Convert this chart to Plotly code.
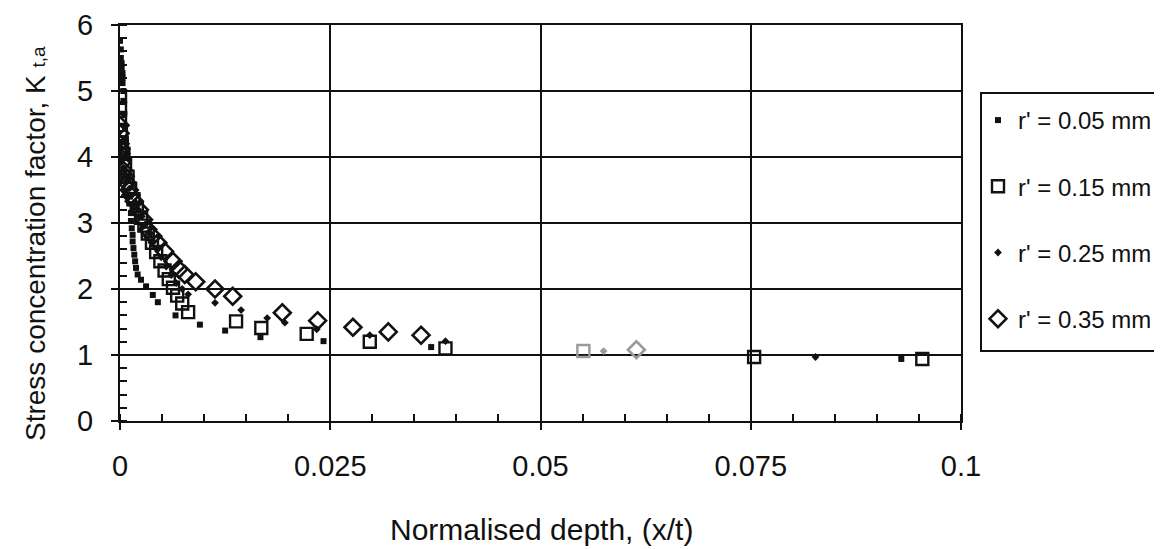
import plotly.graph_objects as go

# ---------------- data ----------------
x_005 = [0.0000, 0.0001, 0.0001, 0.0002, 0.0002, 0.0003, 0.0003, 0.0003, 0.0004, 0.0004,
         0.0005, 0.0006, 0.0007, 0.0008, 0.0010, 0.0012, 0.0013, 0.0013, 0.0014, 0.0015,
         0.0015, 0.0016, 0.0017, 0.0018, 0.0019, 0.0021, 0.0025, 0.0031, 0.0039, 0.0045,
         0.0066, 0.0095, 0.0125, 0.0167, 0.0242, 0.0370, 0.0929]
y_005 = [5.76, 5.63, 5.50, 5.42, 5.35, 5.27, 5.20, 5.12, 5.00, 4.85,
         4.65, 4.45, 4.25, 4.05, 3.70, 3.40, 3.15, 3.03, 2.92, 2.82,
         2.72, 2.62, 2.52, 2.42, 2.32, 2.22, 2.14, 2.04, 1.91, 1.80,
         1.60, 1.46, 1.37, 1.27, 1.21, 1.12, 0.94]

x_015 = [0.0000, 0.0000, 0.0000, 0.0001, 0.0002, 0.0004, 0.0006, 0.0009, 0.0012, 0.0016,
         0.0020, 0.0025, 0.0029, 0.0033, 0.0038, 0.0043, 0.0048, 0.0053, 0.0058, 0.0063,
         0.0068, 0.0074, 0.0081, 0.0138, 0.0168, 0.0222, 0.0297, 0.0387, 0.0551, 0.0754,
         0.0954]
y_015 = [4.92, 4.74, 4.59, 4.40, 4.22, 4.05, 3.88, 3.70, 3.52, 3.36,
         3.22, 3.08, 2.96, 2.84, 2.70, 2.56, 2.42, 2.28, 2.15, 2.02,
         1.90, 1.78, 1.65, 1.51, 1.41, 1.32, 1.20, 1.10, 1.06, 0.97,
         0.94]

x_025 = [0.0000, 0.0001, 0.0002, 0.0004, 0.0006, 0.0008, 0.0011, 0.0014, 0.0018, 0.0022,
         0.0026, 0.0030, 0.0034, 0.0039, 0.0044, 0.0049, 0.0055, 0.0061, 0.0067, 0.0074,
         0.0081, 0.0113, 0.0144, 0.0175, 0.0196, 0.0234, 0.0297, 0.0387, 0.0575, 0.0827]
y_025 = [4.22, 4.08, 3.95, 3.84, 3.74, 3.64, 3.52, 3.42, 3.32, 3.20,
         3.10, 2.98, 2.86, 2.73, 2.60, 2.48, 2.34, 2.21, 2.09, 2.00,
         1.92, 1.79, 1.68, 1.56, 1.49, 1.39, 1.30, 1.21, 1.06, 0.97]

x_035 = [0.0000, 0.0000, 0.0000, 0.0001, 0.0001, 0.0002, 0.0004, 0.0006, 0.0008, 0.0011,
         0.0013, 0.0017, 0.0023, 0.0028, 0.0033, 0.0039, 0.0045, 0.0053, 0.0063, 0.0070,
         0.0077, 0.0090, 0.0113, 0.0134, 0.0193, 0.0235, 0.0277, 0.0319, 0.0358, 0.0614]
y_035 = [4.48, 4.36, 4.20, 4.12, 4.05, 3.91, 3.80, 3.71, 3.61, 3.50,
         3.42, 3.33, 3.20, 3.05, 2.90, 2.80, 2.70, 2.57, 2.42, 2.30,
         2.22, 2.11, 2.00, 1.89, 1.64, 1.52, 1.42, 1.35, 1.30, 1.08]

series_names = ["r' = 0.05 mm", "r' = 0.15 mm", "r' = 0.25 mm", "r' = 0.35 mm"]

x_tickvals = [0, 0.025, 0.05, 0.075, 0.1]
x_ticktext = ["0", "0.025", "0.05", "0.075", "0.1"]
y_tickvals = [0, 1, 2, 3, 4, 5, 6]

# ---------------- styling ----------------
FONT = "Liberation Sans"
BLACK = "#111111"
FADED = "#9a9a9a"


def colours(xs):
    # points in the middle of the chart are faded in the original scan
    return [FADED if 0.05 < v < 0.065 else BLACK for v in xs]


fig = go.Figure()

fig.add_trace(go.Scatter(
    x=x_005, y=y_005, mode="markers", name=series_names[0],
    legendgroup="a",
    marker=dict(symbol="square", size=6, color=colours(x_005), line=dict(width=0)),
))
fig.add_trace(go.Scatter(
    x=x_015, y=y_015, mode="markers", name=series_names[1],
    legendgroup="b",
    marker=dict(symbol="square-open", size=12, color=colours(x_015),
                line=dict(width=2.4, color=colours(x_015))),
))
fig.add_trace(go.Scatter(
    x=x_025, y=y_025, mode="markers", name=series_names[2],
    legendgroup="c",
    marker=dict(symbol="diamond", size=6, color=colours(x_025), line=dict(width=0)),
))
fig.add_trace(go.Scatter(
    x=x_035, y=y_035, mode="markers", name=series_names[3],
    legendgroup="d",
    marker=dict(symbol="diamond-open", size=13, color=colours(x_035),
                line=dict(width=2.6, color=colours(x_035))),
))

L, R, T, B = 112, 209, 17, 136
W, H = 1162, 549
pw, ph = W - L - R, H - T - B


def px_x(p):
    return (p - L) / pw


def px_y(p):
    return (H - B - p) / ph


axis_common = dict(
    showline=True, linecolor=BLACK, linewidth=2.2, mirror=True,
    showgrid=True, gridcolor=BLACK, gridwidth=2,
    zeroline=False,
    ticks="outside", tickcolor=BLACK, tickwidth=2, ticklen=7,
    tickfont=dict(family=FONT, size=29, color=BLACK),
)

fig.update_xaxes(
    range=[0, 0.1], tickvals=x_tickvals, ticktext=x_ticktext,
    ticklabelstandoff=11,
    minor=dict(ticks="inside", dtick=0.005, ticklen=7, tickwidth=2, tickcolor=BLACK,
               showgrid=False),
    **axis_common,
)
fig.update_yaxes(
    range=[0, 6], tickvals=y_tickvals,
    ticklabelstandoff=12,
    minor=dict(ticks="inside", dtick=0.2, ticklen=7, tickwidth=2, tickcolor=BLACK,
               showgrid=False),
    **axis_common,
)

# axis titles
fig.add_annotation(
    text="Normalised depth, (x/t)", xref="paper", yref="paper",
    x=px_x(533), y=px_y(521), showarrow=False,
    font=dict(family=FONT, size=30, color=BLACK), xanchor="center", yanchor="middle",
)
fig.add_annotation(
    text="Stress concentration factor, K <span style='font-size:19px'>t,a</span>",
    xref="paper", yref="paper",
    x=px_x(28), y=px_y(236), showarrow=False, textangle=-90,
    font=dict(family=FONT, size=28, color=BLACK), xanchor="center", yanchor="middle",
)

# legend frame (extends beyond the right edge as in the original)
fig.add_shape(
    type="rect", xref="paper", yref="paper",
    x0=px_x(973), x1=px_x(1175), y0=px_y(343), y1=px_y(85),
    line=dict(color=BLACK, width=2), fillcolor="rgba(0,0,0,0)", layer="above",
)

fig.update_layout(
    width=W, height=H,
    margin=dict(l=L, r=R, t=T, b=B, autoexpand=False),
    paper_bgcolor="white", plot_bgcolor="white",
    showlegend=True,
    legend=dict(
        x=px_x(970), y=px_y(90), xanchor="left", yanchor="top",
        bgcolor="rgba(0,0,0,0)", borderwidth=0,
        font=dict(family=FONT, size=24, color=BLACK),
        traceorder="grouped", tracegroupgap=32,
        itemwidth=30,
    ),
    font=dict(family=FONT, color=BLACK),
)

fig.write_html("out.html")
